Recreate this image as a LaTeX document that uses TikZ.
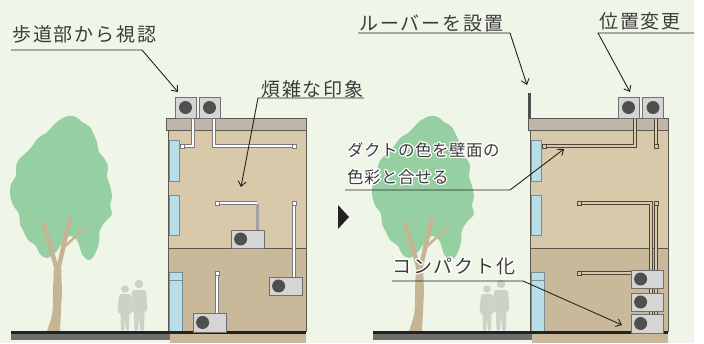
\documentclass[tikz,border=0pt]{standalone}
\usepackage{fontspec}
\setmainfont{Noto Sans CJK JP}
\newfontfamily\labelfont{Noto Sans CJK JP}[LetterSpace=10]
\newfontfamily\notefont{Noto Sans CJK JP}[LetterSpace=3]
\usetikzlibrary{arrows.meta}

\definecolor{bg}{HTML}{EFF6E7}
\definecolor{txt}{HTML}{3C3C3C}
\definecolor{leadc}{HTML}{222222}
\definecolor{wallup}{HTML}{D8C9AA}
\definecolor{walllo}{HTML}{C9B99A}
\definecolor{bldline}{HTML}{5C5750}
\definecolor{slab}{HTML}{BEB6A8}
\definecolor{winfill}{HTML}{B8DFE8}
\definecolor{winline}{HTML}{7C8E94}
\definecolor{groundc}{HTML}{222222}
\definecolor{kerb}{HTML}{6E6E6E}
\definecolor{crown}{HTML}{96CFA2}
\definecolor{trunkc}{HTML}{C6B594}
\definecolor{people}{HTML}{CDD2C9}
\definecolor{unitfill}{HTML}{D5D5D5}
\definecolor{unitline}{HTML}{707070}
\definecolor{fanc}{HTML}{4F4F4F}
\definecolor{pipeline}{HTML}{7A7A7A}
\definecolor{ductline}{HTML}{4F4538}

% white outline behind text lying over the tree
\newcommand\halo[1]{\rlap{\special{pdf:literal direct 1 Tr 2.6 w 1 1 1 RG 1 j 1 J}#1\special{pdf:literal direct 0 Tr}}#1}

\tikzset{
  lbl/.style={anchor=base west, inner sep=0pt, text=txt,
    font=\labelfont\fontsize{19}{22}\selectfont},
  note/.style={lbl, font=\notefont\fontsize{16.5}{20}\selectfont},
  lead/.style={draw=leadc, line width=0.9pt, -{Straight Barb[length=5pt,width=8pt]}},
  unit/.style={draw=unitline, fill=unitfill, line width=0.8pt, inner sep=0pt},
  fan/.style={circle, fill=fanc, inner sep=0pt, minimum size=13pt},
  wpipe/.style={draw=pipeline, double=white, double distance=1.5pt, line width=0.9pt},
  bpipe/.style={draw=ductline, double=wallup, double distance=1.5pt, line width=0.9pt},
  pend/.style={draw=pipeline, fill=white, line width=0.8pt, minimum size=4pt, inner sep=0pt},
  dend/.style={pend, draw=ductline, fill=wallup},
  window/.style={draw=winline, fill=winfill, line width=0.7pt},
}

\begin{document}
\begin{tikzpicture}[x=1pt, y=-1pt]
  \useasboundingbox (0,0) rectangle (704,343);
  \fill[bg] (0,0) rectangle (694,343);
  \fill[white] (694,0) rectangle (704,343);

  % street scene, before and after
  \foreach \dx in {0,362} {
    \begin{scope}[xshift=\dx]
      % tree
      \fill[crown] plot[smooth cycle, tension=0.6] coordinates {
        (68,116) (76,117) (82,122) (90,127) (94,135) (97,142) (99,152)
        (104,158) (108,166) (107,176) (110,186) (112,196) (110,206)
        (112,214) (105,222) (100,230) (99,242) (96,252) (90,260) (83,256)
        (80,248) (77,240) (70,236) (63,242) (56,252) (47,258) (40,254)
        (36,246) (28,240) (24,232) (20,224) (19,214) (13,205) (10,194)
        (11,184) (16,176) (16,166) (20,158) (27,152) (33,145) (38,138)
        (46,133) (52,127) (58,121)};
      \fill[trunkc] (47,331) .. controls (53,314) .. (53,292) -- (54,263)
        -- (61,263) -- (62,292) -- (60,331) -- cycle;
      \draw[trunkc, line width=4.5pt] (56,266) -- (43,222);
      \draw[trunkc, line width=4.5pt] (59,266) -- (70,218);
      \draw[trunkc, line width=2.5pt] (61,250) -- (87,226);
      % two walkers
      \fill[people] (125,289) circle (3.8);
      \fill[people, rounded corners=2pt] (119,294) -- (131,294) -- (132.5,313)
        -- (129.5,313) -- (129,331) -- (125.8,331) -- (125,316) -- (124.2,331)
        -- (121,331) -- (120.5,313) -- (117.5,313) -- cycle;
      \fill[people] (139,284) circle (4.3);
      \fill[people, rounded corners=2pt] (132,290) -- (146,290) -- (147.5,311)
        -- (144.5,311) -- (144,331) -- (140,331) -- (139,314) -- (138,331)
        -- (134.5,331) -- (134,311) -- (130.5,311) -- cycle;
      % building
      \fill[wallup] (168,130) rectangle (306,248);
      \fill[walllo] (168,248) rectangle (306,331);
      \draw[bldline, line width=0.8pt] (168,130) rectangle (306,331);
      \draw[bldline, line width=0.9pt] (168,248) -- (306,248);
      \draw[bldline, fill=slab, line width=0.8pt] (166,118) rectangle (306,130);
      \draw[window] (169,140) rectangle (179,181);
      \draw[window] (169,195) rectangle (179,235);
      \draw[window] (169,272) rectangle (182,331);
      \draw[winline, line width=0.7pt] (169,280) -- (182,280);
      % ground
      \fill[groundc] (11,331) rectangle (306,334);
      \fill[kerb] (11,334) rectangle (170,340);
      \fill[walllo] (170,334) rectangle (306,343);
    \end{scope}
  }

  % before: units and piping in view
  \draw[wpipe] (193,118) |- (182,146);
  \draw[wpipe] (214,118) |- (294,146);
  \draw[wpipe] (217,203) -- (257,203);
  \draw[pipeline!70, line width=3pt] (257,204) -- (257,230);
  \draw[wpipe] (294,203) -- (294,277);
  \draw[wpipe] (217,273) -- (217,313);
  \node[pend] (e1) at (182,146) {};
  \node[pend] (e2) at (294,146) {};
  \node[pend] (e3) at (217,203) {};
  \node[pend] (e4) at (294,203) {};
  \node[pend] (e5) at (217,273) {};

  \node[unit, minimum width=21pt, minimum height=21pt] (ra) at (185.5,107.5) {};
  \node[unit, minimum width=21pt, minimum height=21pt] (rb) at (209.5,107.5) {};
  \node[fan] at (ra) {};
  \node[fan] at (rb) {};
  \node[unit, minimum width=33pt, minimum height=18pt] (ua) at (247.5,239) {};
  \node[unit, minimum width=33pt, minimum height=18pt] (ub) at (285.5,286) {};
  \node[unit, minimum width=33pt, minimum height=19pt] (uc) at (209.5,322.5) {};
  \node[fan] at ([xshift=10pt]ua.west) {};
  \node[fan] at ([xshift=10pt]ub.west) {};
  \node[fan] at ([xshift=10pt]uc.west) {};

  \fill[leadc] (338,205) -- (349,217) -- (338,229) -- cycle;

  % after: louver, moved units, ducts in wall colour
  \fill[fanc] (528,93) rectangle (531,118);
  \draw[bpipe] (635,118) |- (544,146);
  \draw[bpipe] (656,118) -- (656,146);
  \draw[bpipe] (579,203) -| (651,314);
  \draw[bpipe] (656,203) -- (656,314);
  \draw[bpipe] (579,273) -- (631,273);
  \node[dend] (d1) at (544,146) {};
  \node[dend] (d2) at (656,146) {};
  \node[dend] (d3) at (579,203) {};
  \node[dend] (d4) at (656,203) {};
  \node[dend] (d5) at (579,273) {};

  \node[unit, minimum width=21pt, minimum height=21pt] (rc) at (628.5,107.5) {};
  \node[unit, minimum width=21pt, minimum height=21pt] (rd) at (653,107.5) {};
  \node[fan] at (rc) {};
  \node[fan] at (rd) {};
  \node[unit, minimum width=32pt, minimum height=18pt] (sa) at (647,279) {};
  \node[unit, minimum width=32pt, minimum height=18pt] (sb) at (647,302) {};
  \node[unit, minimum width=32pt, minimum height=19pt] (sc) at (647,323.5) {};
  \node[fan] at ([xshift=10pt]sa.west) {};
  \node[fan] at ([xshift=10pt]sb.west) {};
  \node[fan] at ([xshift=10pt]sc.west) {};

  % callouts
  \node[lbl] (walk) at (12,41) {歩道部から視認};
  \coordinate (walk-l) at (11,50);
  \coordinate (walk-k) at (142,50);
  \coordinate (walk-tip) at (178,92);
  \draw[lead] (walk-l) -- (walk-k) -- (walk-tip);

  \node[lbl] (busy) at (261,96) {煩雑な印象};
  \coordinate (busy-r) at (364,98);
  \coordinate (busy-k) at (258,98);
  \coordinate (busy-tip) at (241,187);
  \draw[lead] (busy-r) -- (busy-k) -- (busy-tip);

  \node[lbl] (louver) at (359,30) {ルーバーを設置};
  \coordinate (louver-l) at (358,33);
  \coordinate (louver-k) at (510,33);
  \coordinate (louver-tip) at (527,85);
  \draw[lead] (louver-l) -- (louver-k) -- (louver-tip);

  \node[lbl] (move) at (599,28) {位置変更};
  \coordinate (move-r) at (694,33);
  \coordinate (move-k) at (598,33);
  \coordinate (move-tip) at (630,92);
  \draw[lead] (move-r) -- (move-k) -- (move-tip);

  \node[note] (duct) at (347,156) {\halo{ダクトの色を壁面の}};
  \node[note] (tone) at (347,183) {\halo{色彩と合せる}};
  \coordinate (duct-l) at (345,190);
  \coordinate (duct-k) at (510,190);
  \coordinate (duct-tip) at (564,149);
  \draw[lead] (duct-l) -- (duct-k) -- (duct-tip);

  \node[lbl] (small) at (392,273) {\halo{コンパクト化}};
  \coordinate (small-l) at (392,281);
  \coordinate (small-k) at (523,281);
  \coordinate (small-tip) at (622,325);
  \draw[lead] (small-l) -- (small-k) -- (small-tip);
\end{tikzpicture}
\end{document}
